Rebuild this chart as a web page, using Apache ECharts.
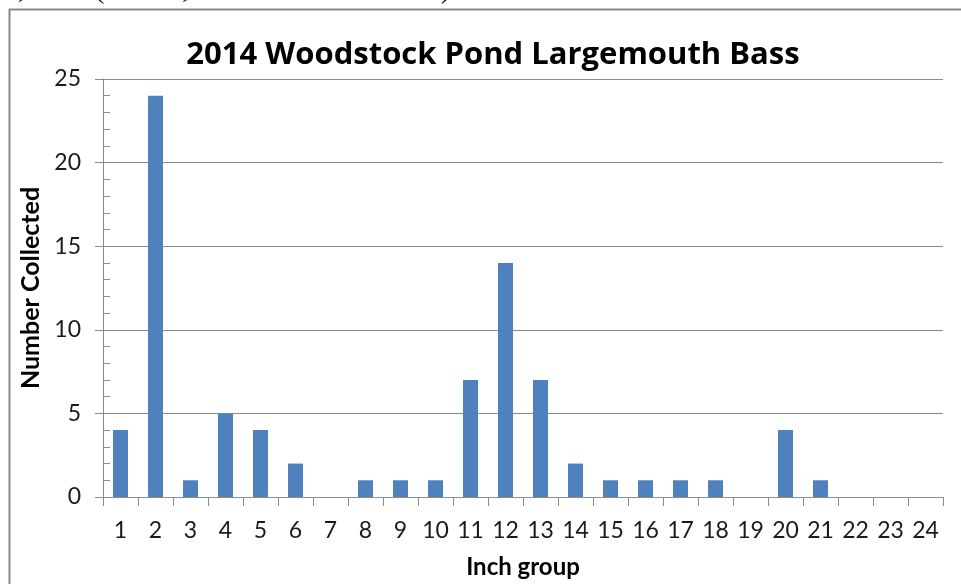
<!DOCTYPE html>
<html>
<head>
<meta charset="utf-8">
<script src="https://cdn.jsdelivr.net/npm/echarts@6/dist/echarts.min.js"></script>
<style>html,body{margin:0;padding:0;background:#fff;}#c{width:961px;height:584px;}</style>
</head>
<body>
<div id="c"></div>
<script>
const categories = ['1','2','3','4','5','6','7','8','9','10','11','12','13','14','15','16','17','18','19','20','21','22','23','24'];
const counts = [4,24,1,5,4,2,0,1,1,1,7,14,7,2,1,1,1,1,0,4,1,0,0,0];
const titleText = '2014 Woodstock Pond Largemouth Bass';
const captionText = '14, 2014 (N = 82, CPUE = 101.3 fish/hr)';
const yTicks = {min: 0, max: 25, interval: 5};

const chart = echarts.init(document.getElementById('c'));
const axisGray = '#8c8c8c';
const font = 'Lato, "Open Sans", sans-serif';
chart.setOption({
  animation: false,
  title: {
    text: titleText, left: 488, top: 35, textAlign: 'center',
    textStyle: {fontFamily: '"Open Sans", sans-serif', fontWeight: 'bold', fontSize: 31, color: '#000'}
  },
  graphic: [
    {type: 'rect', shape: {x: 9.5, y: 9.5, width: 1000, height: 1000}, style: {fill: 'none', stroke: '#8a8a8a', lineWidth: 2}, silent: true},
    {type: 'text', x: -10, y: 5, style: {text: captionText, font: '28px "Liberation Serif", serif', fill: '#000', textVerticalAlign: 'bottom'}, silent: true}
  ],
  grid: {left: 103, right: 18, top: 79, bottom: 86},
  xAxis: {
    type: 'category', data: categories, boundaryGap: true,
    name: 'Inch group', nameLocation: 'middle', nameGap: 58,
    nameTextStyle: {fontFamily: font, fontWeight: 'bold', fontSize: 24, color: '#000'},
    axisLine: {lineStyle: {color: axisGray, width: 1}},
    axisTick: {show: true, length: 9, alignWithLabel: false, lineStyle: {color: axisGray}},
    axisLabel: {fontFamily: font, fontSize: 23, color: '#1a1a1a', margin: 22, interval: 0}
  },
  yAxis: [{
    type: 'value', min: yTicks.min, max: yTicks.max, interval: yTicks.interval,
    name: 'Number Collected', nameLocation: 'middle', nameGap: 59, nameRotate: 90,
    nameTextStyle: {fontFamily: font, fontWeight: 'bold', fontSize: 25, color: '#000'},
    axisLine: {show: true, lineStyle: {color: axisGray}},
    axisTick: {show: true, length: 8, lineStyle: {color: axisGray}},
    axisLabel: {fontFamily: font, fontSize: 23, color: '#1a1a1a', margin: 22},
    splitLine: {show: true, lineStyle: {color: axisGray, width: 1}}
  }, {
    type: 'value', min: yTicks.min, max: yTicks.max, interval: yTicks.interval, position: 'left',
    axisLine: {show: false},
    axisTick: {show: false, inside: true},
    axisLabel: {show: false},
    splitLine: {show: false},
    minorTick: {show: true, splitNumber: 5, length: 7, lineStyle: {color: axisGray}}
  }],
  series: [{
    type: 'bar', data: counts, barWidth: 15, itemStyle: {color: '#4F81BD'}, yAxisIndex: 0
  }]
});
</script>
</body>
</html>
